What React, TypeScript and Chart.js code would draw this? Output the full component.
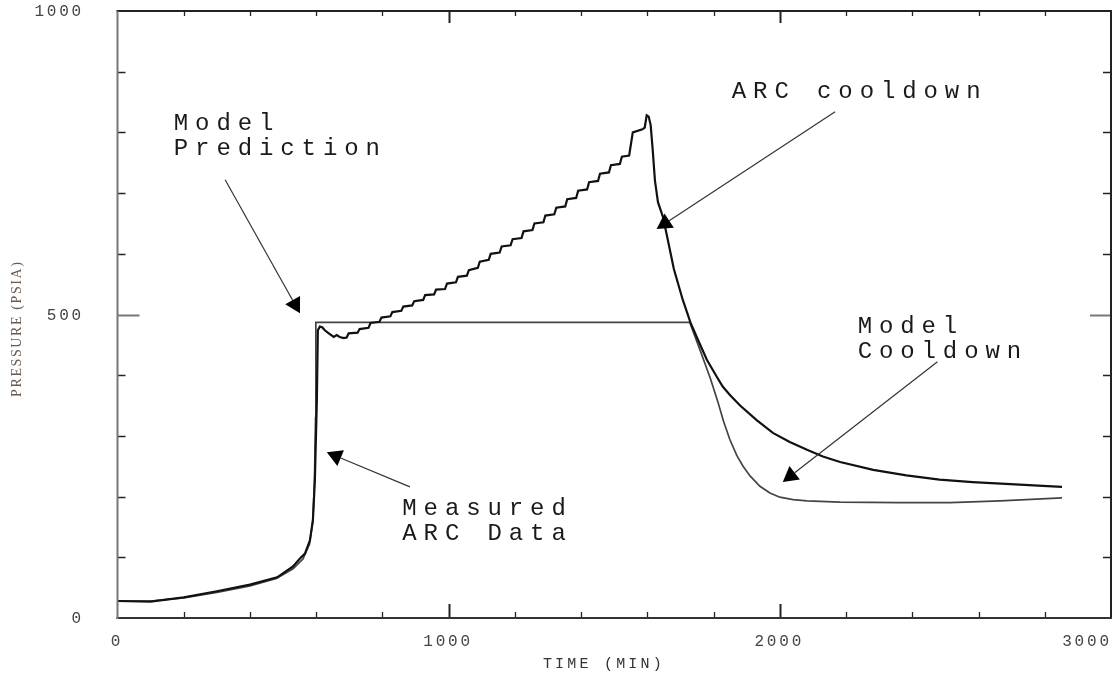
import React, { useEffect, useRef } from 'react';
import { Chart, registerables } from 'chart.js';

Chart.register(...registerables);

// Measured ARC data (time in min, pressure in psia)
const measuredTime = [
  0, 100, 200, 300, 400, 482, 530, 551, 566, 581, 590, 596, 602, 605, 611, 618, 626, 638, 653, 662, 671, 683, 692, 698, 725, 731,
  758, 764, 791, 797, 824, 830, 857, 863, 890, 896, 923, 929, 956, 962, 989, 995, 1022, 1028, 1055, 1061,
  1088, 1094, 1121, 1127, 1154, 1160, 1187, 1193, 1220, 1226, 1253, 1259, 1286, 1292, 1319, 1325, 1352, 1358,
  1385, 1391, 1418, 1424, 1451, 1457, 1484, 1490, 1517, 1523, 1545, 1556, 1585, 1592,
  1598, 1604, 1610, 1616, 1623, 1632, 1647, 1659, 1680, 1707, 1730, 1753, 1780, 1810, 1828, 1850, 1880, 1930, 1979,
  2030, 2082, 2130, 2182, 2282, 2382, 2482, 2582, 2682, 2780, 2852,
];
const measuredPressure = [
  28, 27, 34, 44, 55, 67, 85, 98, 106, 128, 161, 227, 359, 474, 480, 479, 474, 469, 463, 466, 463, 461, 462, 469, 470, 476,
  478, 486, 488, 495, 497, 504, 506, 513, 515, 522, 524, 532, 533, 541, 542, 551, 553, 562, 564, 573,
  577, 587, 590, 600, 602, 612, 614, 624, 626, 637, 639, 650, 652, 663, 665, 676, 678, 690,
  692, 704, 706, 718, 720, 732, 734, 746, 748, 760, 762, 800, 805, 808,
  828, 826, 812, 772, 720, 685, 661, 630, 575, 524, 487, 458, 425, 397, 381, 367, 350, 326, 305,
  290, 277, 266, 257, 244, 235, 228, 224, 221, 218, 216,
];

// Model prediction
const modelTime = [
  0, 100, 200, 300, 400, 480, 530, 560, 580, 590, 595, 598, 599, 1728, 1760, 1790, 1813, 1830, 1849, 1870, 1889, 1910, 1940,
  1970, 2000, 2040, 2082, 2182, 2363, 2514, 2665, 2852,
];
const modelPressure = [
  28, 28, 33, 42, 53, 65, 81, 97, 122, 160, 230, 330, 487, 487, 440, 395, 356, 324, 294, 268, 250, 234, 217,
  206, 199, 195, 193, 191, 190, 190, 193, 198,
];

// Axes
const xTicks = [0, 200, 400, 600, 800, 1000, 1200, 1400, 1600, 1800, 2000, 2200, 2400, 2600, 2800, 3000];
const xLabels = [0, 1000, 2000, 3000];
const yTicks = [0, 100, 200, 300, 400, 500, 600, 700, 800, 900, 1000];
const yLabels = [0, 500, 1000];
const xTitle = 'TIME (MIN)';
const yTitle = 'PRESSURE (PSIA)';

// Annotations (anchored in data coordinates)
const noteText = ['Model', 'Prediction', 'ARC cooldown', 'Model', 'Cooldown', 'Measured', 'ARC Data'];
const noteTime = [170, 170, 1855, 2235, 2235, 860, 860];
const notePressure = [804, 763, 857, 470, 428, 170, 128];

const arrowTailTime = [325, 2167, 2476, 883];
const arrowTailPressure = [722, 834, 422, 216];
const arrowTipTime = [551, 1628, 2009, 632];
const arrowTipPressure = [502, 641, 224, 273];

const MONO = '"Liberation Mono", "DejaVu Sans Mono", monospace';

function seg(ctx: CanvasRenderingContext2D, x1: number, y1: number, x2: number, y2: number) {
  ctx.beginPath();
  ctx.moveTo(x1, y1);
  ctx.lineTo(x2, y2);
  ctx.stroke();
}

const framePlugin = {
  id: 'framePlugin',
  afterDatasetsDraw(chart: any) {
    const { ctx, chartArea: a, scales } = chart;
    const xs = scales.x;
    const ys = scales.y;
    ctx.save();
    ctx.lineCap = 'butt';

    // y ticks (inward, both sides)
    for (const v of yTicks) {
      if (v === 0 || v === 1000) continue;
      const py = Math.round(ys.getPixelForValue(v)) + 0.5;
      const major = yLabels.includes(v);
      ctx.strokeStyle = major ? '#777' : '#222';
      ctx.lineWidth = major ? 2 : 1.5;
      const lenL = major ? 22 : 8;
      const lenR = major ? 21 : 8;
      seg(ctx, a.left, py, a.left + lenL, py);
      seg(ctx, a.right - lenR, py, a.right, py);
    }
    // x ticks (inward, top and bottom)
    for (const v of xTicks) {
      if (v === 0 || v === 3000) continue;
      const px = Math.round(xs.getPixelForValue(v)) + 0.5;
      const major = xLabels.includes(v);
      ctx.strokeStyle = '#222';
      ctx.lineWidth = major ? 2 : 1.3;
      seg(ctx, px, a.bottom, px, a.bottom - (major ? 14 : 6));
      seg(ctx, px, a.top, px, a.top + (major ? 12 : 5));
    }

    // frame
    ctx.lineWidth = 2;
    ctx.strokeStyle = '#222';
    seg(ctx, a.left - 1, a.top, a.right + 1, a.top);
    seg(ctx, a.right, a.top, a.right, a.bottom + 1);
    ctx.strokeStyle = '#333';
    seg(ctx, a.left - 1, a.bottom, a.right + 1, a.bottom);
    ctx.strokeStyle = '#777';
    seg(ctx, a.left, a.top, a.left, a.bottom + 1);

    // tick labels
    ctx.fillStyle = '#444';
    ctx.font = '16px ' + MONO;
    (ctx as any).letterSpacing = '2.8px';
    ctx.textBaseline = 'middle';
    ctx.textAlign = 'right';
    for (const v of yLabels) {
      const py = ys.getPixelForValue(v);
      ctx.fillText(String(v), a.left - 33.5, py + 1);
    }
    ctx.textAlign = 'left';
    for (const v of xLabels) {
      const s = String(v);
      const w = ctx.measureText(s).width - 2.8;
      let cx = xs.getPixelForValue(v) - 2;
      if (cx + w / 2 > a.right - 2) cx = a.right - 2 - w / 2;
      ctx.fillText(s, cx - w / 2, a.bottom + 24);
    }

    // axis titles
    ctx.fillStyle = '#333';
    ctx.font = '15px ' + MONO;
    (ctx as any).letterSpacing = '3.2px';
    const tw = ctx.measureText(xTitle).width - 3.2;
    const tx = a.left + (a.right - a.left) * 0.488;
    ctx.fillText(xTitle, tx - tw / 2, a.bottom + 46);

    ctx.save();
    ctx.fillStyle = '#6a5a50';
    ctx.font = '14px "Liberation Serif", serif';
    (ctx as any).letterSpacing = '1.6px';
    const yw = ctx.measureText(yTitle).width - 1.6;
    ctx.translate(17, (a.top + a.bottom) / 2 + 15);
    ctx.rotate(-Math.PI / 2);
    ctx.fillText(yTitle, -yw / 2, 0);
    ctx.restore();

    // annotation text
    ctx.fillStyle = '#1a1a1a';
    ctx.font = '24px ' + MONO;
    (ctx as any).letterSpacing = '6.9px';
    ctx.textBaseline = 'alphabetic';
    ctx.textAlign = 'left';
    noteText.forEach((t, i) => {
      ctx.fillText(t, xs.getPixelForValue(noteTime[i]), ys.getPixelForValue(notePressure[i]));
    });
    (ctx as any).letterSpacing = '0px';

    // arrows
    ctx.strokeStyle = '#333';
    ctx.fillStyle = '#000';
    ctx.lineWidth = 1.2;
    arrowTailTime.forEach((_, i) => {
      const x1 = xs.getPixelForValue(arrowTailTime[i]);
      const y1 = ys.getPixelForValue(arrowTailPressure[i]);
      const x2 = xs.getPixelForValue(arrowTipTime[i]);
      const y2 = ys.getPixelForValue(arrowTipPressure[i]);
      const dx = x2 - x1;
      const dy = y2 - y1;
      const L = Math.hypot(dx, dy);
      const ux = dx / L;
      const uy = dy / L;
      const hl = 15;
      const hw = 8.5;
      const bx = x2 - ux * hl;
      const by = y2 - uy * hl;
      seg(ctx, x1, y1, bx, by);
      ctx.beginPath();
      ctx.moveTo(x2, y2);
      ctx.lineTo(bx - uy * hw, by + ux * hw);
      ctx.lineTo(bx + uy * hw, by - ux * hw);
      ctx.closePath();
      ctx.fill();
    });

    ctx.restore();
  },
};

export default function App() {
  const ref = useRef<HTMLCanvasElement | null>(null);

  useEffect(() => {
    if (!ref.current) return;
    const measured = measuredTime.map((t, i) => ({ x: t, y: measuredPressure[i] }));
    const model = modelTime.map((t, i) => ({ x: t, y: modelPressure[i] }));
    const chart = new Chart(ref.current, {
      type: 'line',
      data: {
        datasets: [
          {
            label: 'Measured ARC Data',
            data: measured,
            borderColor: '#111',
            borderWidth: 2.2,
            pointRadius: 0,
            tension: 0,
            fill: false,
          },
          {
            label: 'Model Prediction',
            data: model,
            borderColor: '#444',
            borderWidth: 1.7,
            pointRadius: 0,
            tension: 0,
            fill: false,
          },
        ],
      },
      options: {
        animation: false,
        responsive: false,
        devicePixelRatio: 1,
        layout: { padding: { left: 117.5, right: 6, top: 11, bottom: 57 } },
        plugins: { legend: { display: false }, tooltip: { enabled: false } },
        scales: {
          x: { type: 'linear', min: 0, max: 3000, display: false },
          y: { type: 'linear', min: 0, max: 1000, display: false },
        },
      },
      plugins: [framePlugin],
    });
    return () => chart.destroy();
  }, []);

  return (
    <div style={{ position: 'fixed', left: 0, top: 0, width: 1117, height: 675, background: '#fff' }}>
      <canvas ref={ref} width={1117} height={675} style={{ display: 'block' }} />
    </div>
  );
}
